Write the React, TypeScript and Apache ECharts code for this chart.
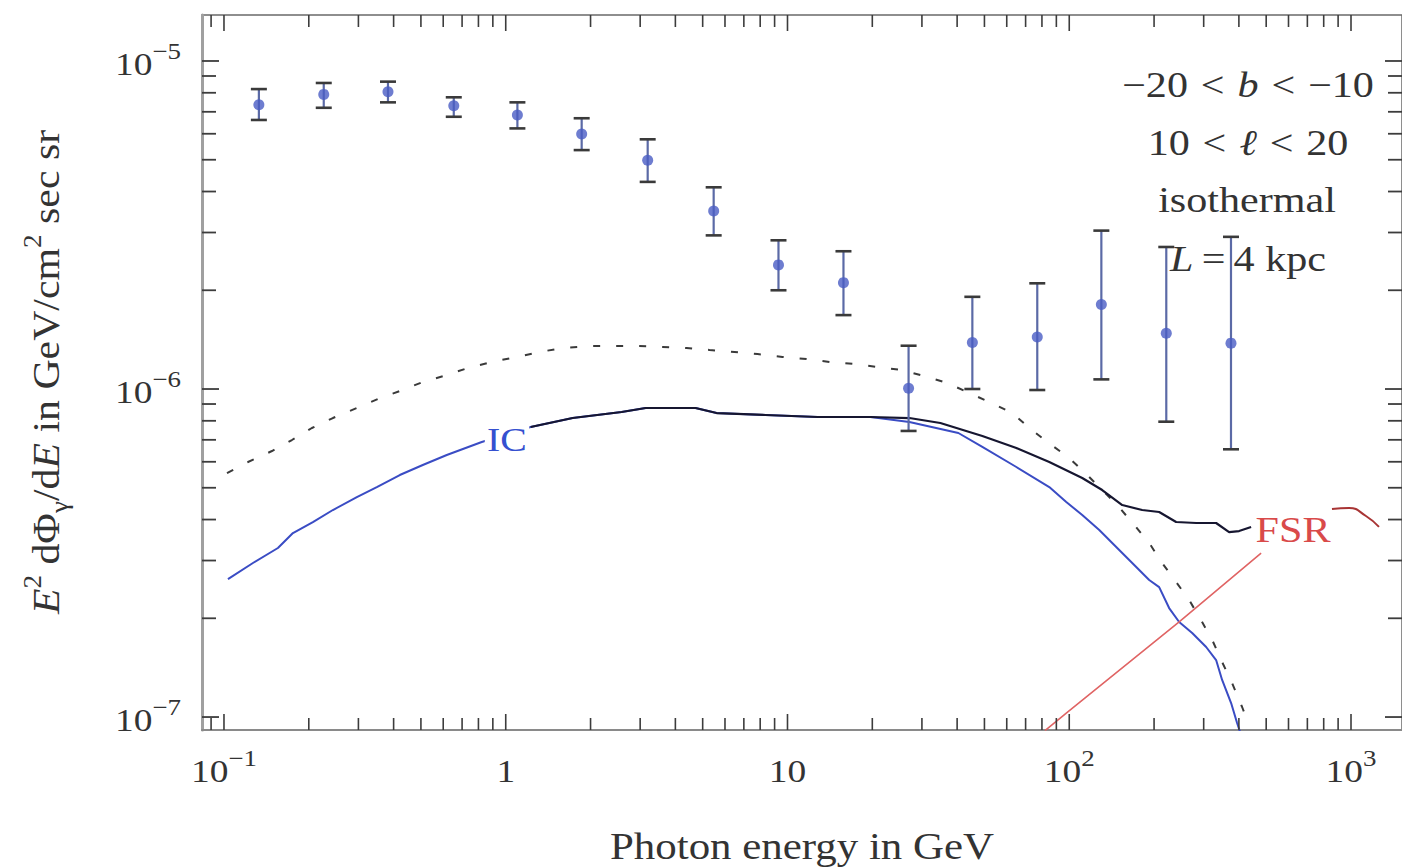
import React, { useEffect, useRef } from 'react';
import * as echarts from 'echarts';

const FONT = "'Liberation Serif', 'Times New Roman', 'DejaVu Serif', serif";
const TEXT = '#333333';
const TICK = '#3c3c3c';

// axis ranges (log)
const X_MIN = 0.08356;
const X_MAX = 1517;
const Y_MIN = 9.13e-8;
const Y_MAX = 1.381e-5;

// tick values
const X_TICKS = [0.09, 0.1, 0.2, 0.3, 0.4, 0.5, 0.6, 0.7, 0.8, 0.9, 1, 2, 3, 4, 5, 6, 7, 8, 9, 10, 20, 30, 40, 50, 60, 70, 80, 90, 100, 200, 300, 400, 500, 600, 700, 800, 900, 1000];
const Y_TICKS = [1e-7, 2e-7, 3e-7, 4e-7, 5e-7, 6e-7, 7e-7, 8e-7, 9e-7, 1e-6, 2e-6, 3e-6, 4e-6, 5e-6, 6e-6, 7e-6, 8e-6, 9e-6, 1e-5];

// measured data points with error bars
const DATA_E = [0.133, 0.226, 0.382, 0.654, 1.10, 1.86, 3.19, 5.47, 9.29, 15.8, 26.9, 45.3, 77.0, 130, 221, 375];
const DATA_FLUX = [7.35e-6, 7.91e-6, 8.06e-6, 7.30e-6, 6.84e-6, 5.99e-6, 4.98e-6, 3.49e-6, 2.39e-6, 2.11e-6, 1.005e-6, 1.387e-6, 1.44e-6, 1.81e-6, 1.48e-6, 1.38e-6];
const DATA_HIGH = [8.21e-6, 8.57e-6, 8.65e-6, 7.75e-6, 7.48e-6, 6.69e-6, 5.77e-6, 4.12e-6, 2.84e-6, 2.63e-6, 1.355e-6, 1.91e-6, 2.10e-6, 3.04e-6, 2.71e-6, 2.91e-6];
const DATA_LOW = [6.61e-6, 7.20e-6, 7.48e-6, 6.76e-6, 6.23e-6, 5.35e-6, 4.28e-6, 2.94e-6, 2.00e-6, 1.68e-6, 7.45e-7, 1.0e-6, 9.93e-7, 1.07e-6, 7.95e-7, 6.55e-7];

// dashed (dotted) model curve
const DASHED_E = [0.1025, 0.1217, 0.1480, 0.1742, 0.2051, 0.2435, 0.2962, 0.3516, 0.4207, 0.5077, 0.6176, 0.7333, 0.8921, 1.094, 1.320, 1.593, 1.986, 2.395, 2.938, 3.603, 4.384, 5.289, 6.488, 7.827, 9.600, 11.68, 14.09, 17.29, 20.85, 25.37, 30.60, 36.93, 52.89, 62.81, 72.15, 83.56, 100, 113.9, 148.0, 170.1, 192.2, 213.7, 239.5, 266.4, 296.2, 324.1, 348.8, 378.4, 410.7, 434.9];
const DASHED_F = [5.544e-7, 5.990e-7, 6.471e-7, 6.991e-7, 7.606e-7, 8.157e-7, 8.752e-7, 9.322e-7, 9.861e-7, 1.050e-6, 1.103e-6, 1.159e-6, 1.209e-6, 1.252e-6, 1.297e-6, 1.334e-6, 1.352e-6, 1.352e-6, 1.352e-6, 1.343e-6, 1.334e-6, 1.315e-6, 1.297e-6, 1.278e-6, 1.252e-6, 1.235e-6, 1.209e-6, 1.192e-6, 1.167e-6, 1.143e-6, 1.095e-6, 1.043e-6, 9.064e-7, 8.448e-7, 7.606e-7, 6.893e-7, 6.161e-7, 5.544e-7, 4.429e-7, 3.850e-7, 3.393e-7, 2.948e-7, 2.580e-7, 2.274e-7, 1.948e-7, 1.693e-7, 1.471e-7, 1.270e-7, 1.073e-7, 9.454e-8];

// IC (blue) curve
const IC_E = [0.1033, 0.1267, 0.1554, 0.1757, 0.2068, 0.2435, 0.2962, 0.3487, 0.4207, 0.5077, 0.6176, 0.8221, 1.226, 1.728, 2.578, 3.137, 4.718, 5.601, 8.356, 12.78, 19.70, 27.08, 40.41, 49.15, 64.90, 84.94, 97.59, 111.2, 127.8, 146.8, 167.3, 192.2, 208.5, 226.2, 245.5, 273.1, 306.1, 332.1, 348.8, 375.4, 394.2, 404.0];
const IC_F = [2.634e-7, 2.948e-7, 3.276e-7, 3.639e-7, 3.931e-7, 4.277e-7, 4.685e-7, 5.025e-7, 5.467e-7, 5.866e-7, 6.293e-7, 6.893e-7, 7.658e-7, 8.157e-7, 8.508e-7, 8.752e-7, 8.752e-7, 8.448e-7, 8.332e-7, 8.216e-7, 8.216e-7, 7.932e-7, 7.343e-7, 6.657e-7, 5.784e-7, 5.025e-7, 4.524e-7, 4.130e-7, 3.716e-7, 3.299e-7, 2.948e-7, 2.616e-7, 2.490e-7, 2.149e-7, 1.948e-7, 1.804e-7, 1.635e-7, 1.492e-7, 1.297e-7, 1.103e-7, 9.587e-8, 9.0e-8];

// total (black) curve
const TOTAL_E = [1.226, 1.728, 2.578, 3.137, 4.718, 5.601, 8.356, 12.78, 19.70, 27.08, 34.87, 49.15, 64.90, 84.94, 111.2, 130.9, 154.2, 181.5, 208.5, 239.5, 282.1, 332.1, 369.3, 400.7, 442.0];
const TOTAL_F = [7.658e-7, 8.157e-7, 8.508e-7, 8.752e-7, 8.752e-7, 8.448e-7, 8.332e-7, 8.216e-7, 8.216e-7, 8.157e-7, 7.876e-7, 7.189e-7, 6.610e-7, 5.990e-7, 5.354e-7, 4.921e-7, 4.429e-7, 4.277e-7, 4.217e-7, 3.931e-7, 3.904e-7, 3.904e-7, 3.664e-7, 3.690e-7, 3.795e-7];

// FSR (red) curve
const FSR_E = [82, 97.6, 245.5, 479.7];
const FSR_F = [9.09e-8, 1.028e-7, 1.95e-7, 3.16e-7];
const FSR_TAIL_E = [856, 984, 1130, 1257];
const FSR_TAIL_F = [4.31e-7, 4.34e-7, 4.10e-7, 3.80e-7];

const zip = (a: number[], b: number[]) => a.map((v, i) => [v, b[i]]);
const isDecade = (v: number) => Math.abs(Math.log10(v) - Math.round(Math.log10(v))) < 1e-9;
const tickLabel = (v: number) => {
  const e = Math.round(Math.log10(v));
  if (e === 0) return '{b|1}';
  if (e === 1) return '{b|10}';
  return '{b|10}{s|' + (e < 0 ? '\u2212' + -e : String(e)) + '}';
};

const TICK_RICH = {
  b: { fontSize: 32, fontFamily: FONT, fill: TEXT, color: TEXT, lineHeight: 48 },
  s: { fontSize: 23, fontFamily: FONT, fill: TEXT, color: TEXT, lineHeight: 21, verticalAlign: 'top' },
};

const ANN_RICH = {
  n: { fontSize: 36, fontFamily: FONT, fill: TEXT },
  it: { fontSize: 36, fontFamily: FONT, fontStyle: 'italic', fill: TEXT },
  op: { fontSize: 36, fontFamily: FONT, fill: TEXT, padding: [0, 11] },
  eq: { fontSize: 36, fontFamily: FONT, fill: TEXT, padding: [0, 7] },
};

const TITLE_RICH = {
  n: { fontSize: 37, fontFamily: FONT, fill: TEXT, lineHeight: 50 },
  it: { fontSize: 37, fontFamily: FONT, fontStyle: 'italic', fill: TEXT, lineHeight: 50 },
  sup: { fontSize: 24, fontFamily: FONT, fill: TEXT, lineHeight: 22, verticalAlign: 'top' },
  sub: { fontSize: 24, fontFamily: FONT, fill: TEXT, lineHeight: 36, verticalAlign: 'bottom' },
};

const SX = 1.17;

export default function App() {
  const ref = useRef<HTMLDivElement>(null);
  useEffect(() => {
    const chart = echarts.init(ref.current!, null, { renderer: 'svg' });
    const option: any = {
      animation: false,
      backgroundColor: '#ffffff',
      grid: {
        left: 202, top: 15, width: 1201, height: 715,
        show: true, borderColor: '#6a6a6a', borderWidth: 1.5, backgroundColor: 'transparent',
      },
      xAxis: {
        type: 'log', logBase: 10, min: X_MIN, max: X_MAX,
        axisLabel: { show: false }, axisTick: { show: false }, splitLine: { show: false },
        minorTick: { show: false },
        axisLine: { show: true, lineStyle: { color: '#8a8a8a', width: 2 } },
      },
      yAxis: {
        type: 'log', logBase: 10, min: Y_MIN, max: Y_MAX,
        axisLabel: { show: false }, axisTick: { show: false }, splitLine: { show: false },
        minorTick: { show: false },
        axisLine: { show: true, lineStyle: { color: '#a0a0a0', width: 3 } },
      },
      graphic: [
        { type: 'text', x: 1248, y: 85, scaleX: SX, style: { text: '{n|\u221220}{op|<}{it|b}{op|<}{n|\u221210}', rich: ANN_RICH, align: 'center', verticalAlign: 'middle' } },
        { type: 'text', x: 1248, y: 143, scaleX: SX, style: { text: '{n|10}{op|<}{it|\u2113}{op|<}{n|20}', rich: ANN_RICH, align: 'center', verticalAlign: 'middle' } },
        { type: 'text', x: 1247, y: 200, scaleX: SX, style: { text: '{n|isothermal}', rich: ANN_RICH, align: 'center', verticalAlign: 'middle' } },
        { type: 'text', x: 1248, y: 259, scaleX: SX, style: { text: '{it|L}{eq|=}{n|4 kpc}', rich: ANN_RICH, align: 'center', verticalAlign: 'middle' } },
        { type: 'text', x: 507, y: 440, scaleX: SX, z: 20, style: { text: 'IC', fontSize: 34, fontFamily: FONT, fill: '#3550d0', align: 'center', verticalAlign: 'middle', backgroundColor: '#ffffff', padding: [0, 2] } },
        { type: 'text', x: 1293, y: 530, scaleX: SX, z: 20, style: { text: 'FSR', fontSize: 36, fontFamily: FONT, fill: '#d94a4a', align: 'center', verticalAlign: 'middle' } },
        { type: 'text', x: 802, y: 847, scaleX: 1.16, style: { text: 'Photon energy in GeV', fontSize: 37, fontFamily: FONT, fill: TEXT, align: 'center', verticalAlign: 'middle' } },
        { type: 'text', x: 46, y: 372, rotation: Math.PI / 2, scaleX: 1.13, scaleY: 1.05, style: { text: '{it|E}{sup|2}{n| d\u03A6}{sub|\u03B3}{n|/d}{it|E}{n| in GeV/cm}{sup|2}{n| sec sr}', rich: TITLE_RICH, align: 'center', verticalAlign: 'middle' } },
      ],
      series: [
        {
          type: 'custom', name: 'xticks', silent: true, z: 5,
          data: X_TICKS.map((v) => [v, 1e-6]), encode: { x: 0, y: 1 },
          renderItem: (params: any, api: any) => {
            const v = api.value(0);
            const cs = params.coordSys;
            const px = api.coord([v, 1e-6])[0];
            const major = isDecade(v);
            const len = major ? 16 : 12;
            const bottom = cs.y + cs.height;
            const top = cs.y;
            const children: any[] = [
              { type: 'line', shape: { x1: px, y1: bottom, x2: px, y2: bottom - len }, style: { stroke: TICK, lineWidth: 1.6 } },
              { type: 'line', shape: { x1: px, y1: top, x2: px, y2: top + len }, style: { stroke: TICK, lineWidth: 1.6 } },
            ];
            if (major) {
              children.push({ type: 'text', x: px, y: bottom + 41, scaleX: SX, style: { text: tickLabel(v), rich: TICK_RICH, align: 'center', verticalAlign: 'middle', fill: TEXT } });
            }
            return { type: 'group', children };
          },
        },
        {
          type: 'custom', name: 'yticks', silent: true, z: 5,
          data: Y_TICKS.map((v) => [1, v]), encode: { x: 0, y: 1 },
          renderItem: (params: any, api: any) => {
            const v = api.value(1);
            const cs = params.coordSys;
            const py = api.coord([1, v])[1];
            const major = isDecade(v);
            const len = major ? 17 : 14;
            const left = cs.x;
            const right = cs.x + cs.width;
            const children: any[] = [
              { type: 'line', shape: { x1: left, y1: py, x2: left + len, y2: py }, style: { stroke: TICK, lineWidth: 1.8 } },
              { type: 'line', shape: { x1: right, y1: py, x2: right - len, y2: py }, style: { stroke: TICK, lineWidth: 1.8 } },
            ];
            if (major) {
              children.push({ type: 'text', x: left - 21, y: py + 3, scaleX: SX, style: { text: tickLabel(v), rich: TICK_RICH, align: 'right', verticalAlign: 'middle', fill: TEXT } });
            }
            return { type: 'group', children };
          },
        },
        {
          type: 'line', name: 'dashed', data: zip(DASHED_E, DASHED_F), symbol: 'none', silent: true, z: 3,
          lineStyle: { color: '#3a3a3a', width: 2, type: [7, 16] },
        },
        {
          type: 'line', name: 'IC', data: zip(IC_E, IC_F), symbol: 'none', silent: true, z: 3,
          lineStyle: { color: '#3a4cc4', width: 2 },
        },
        {
          type: 'line', name: 'total', data: zip(TOTAL_E, TOTAL_F), symbol: 'none', silent: true, z: 4,
          lineStyle: { color: '#161630', width: 2.2 },
        },
        {
          type: 'line', name: 'FSR', data: zip(FSR_E, FSR_F), symbol: 'none', silent: true, z: 3,
          lineStyle: { color: '#e06464', width: 1.6 },
        },
        {
          type: 'line', name: 'FSR tail', data: zip(FSR_TAIL_E, FSR_TAIL_F), symbol: 'none', silent: true, z: 3, smooth: true,
          lineStyle: { color: '#a83434', width: 2 },
        },
        {
          type: 'custom', name: 'errors', silent: true, z: 6,
          data: DATA_E.map((e, i) => [e, DATA_FLUX[i], DATA_LOW[i], DATA_HIGH[i]]), encode: { x: 0, y: 1 },
          renderItem: (params: any, api: any) => {
            const x = api.value(0);
            const lo = api.coord([x, api.value(2)]);
            const hi = api.coord([x, api.value(3)]);
            const w = 8;
            return {
              type: 'group',
              children: [
                { type: 'line', shape: { x1: lo[0], y1: lo[1], x2: hi[0], y2: hi[1] }, style: { stroke: '#5b6aa6', lineWidth: 2.2 } },
                { type: 'line', shape: { x1: lo[0] - w, y1: lo[1], x2: lo[0] + w, y2: lo[1] }, style: { stroke: '#3a3a3a', lineWidth: 2.6 } },
                { type: 'line', shape: { x1: hi[0] - w, y1: hi[1], x2: hi[0] + w, y2: hi[1] }, style: { stroke: '#3a3a3a', lineWidth: 2.6 } },
              ],
            };
          },
        },
        {
          type: 'scatter', name: 'data', data: zip(DATA_E, DATA_FLUX), symbol: 'circle', symbolSize: 11, silent: true, z: 7,
          itemStyle: { color: '#4a5dc4' },
        },
      ],
    };
    chart.setOption(option);
    return () => chart.dispose();
  }, []);
  return <div ref={ref} style={{ position: 'fixed', left: 0, top: 0, width: 1402, height: 868, background: '#ffffff' }} />;
}
